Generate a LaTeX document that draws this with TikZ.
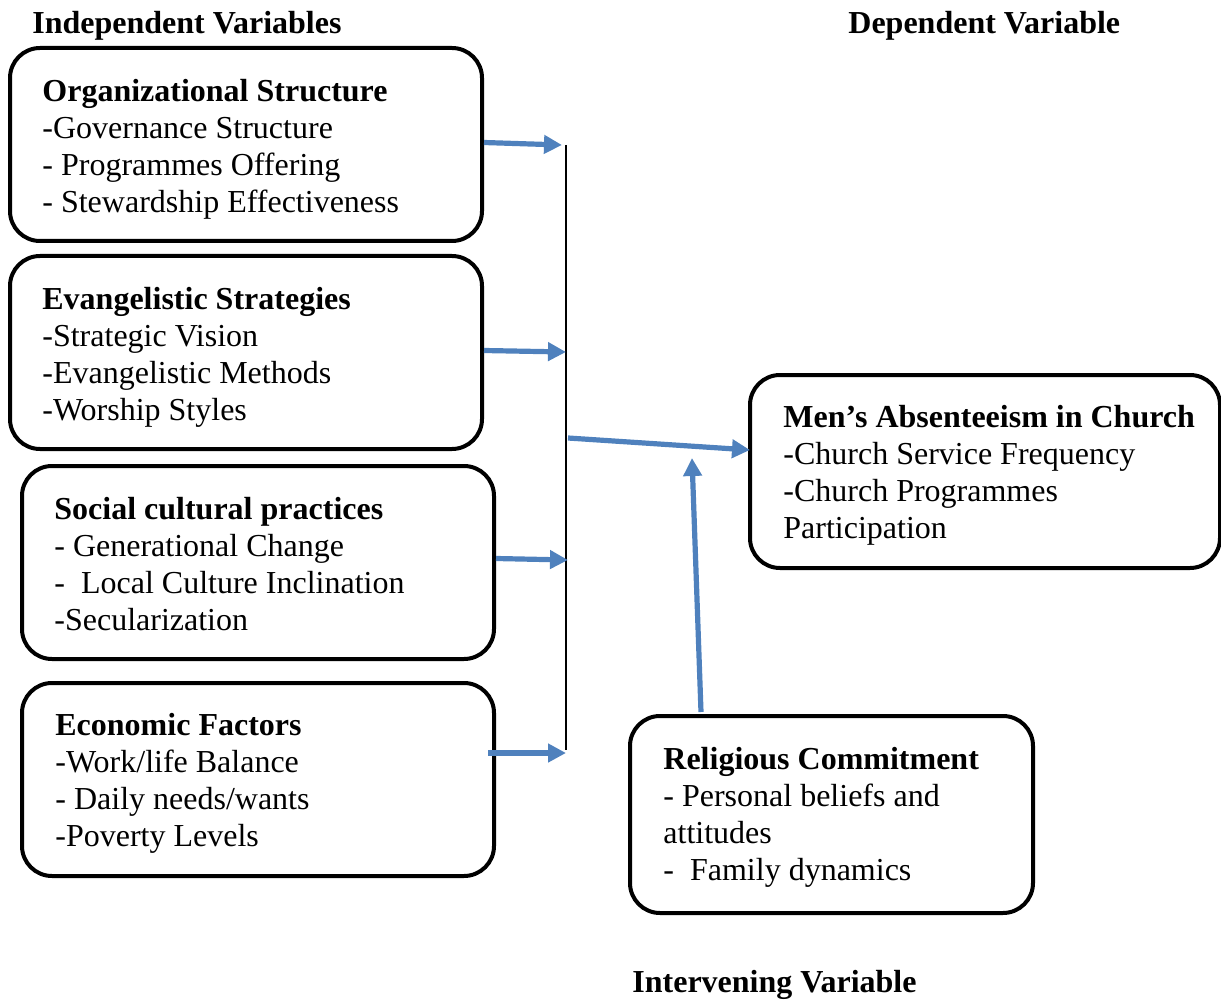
\documentclass[tikz,border=0pt]{standalone}
\usepackage{fontspec}
\setmainfont{Liberation Serif}
\usetikzlibrary{arrows.meta,positioning}
\definecolor{arrowblue}{RGB}{79,129,189}
\tikzset{
  varbox/.style={draw, line width=2pt, rounded corners=15pt, minimum width=#1, minimum height=96.5pt, inner sep=0pt},
  vartext/.style={anchor=north west, inner sep=0pt, align=left, font=\fontsize{16pt}{18.5pt}\selectfont},
  heading/.style={anchor=base west, inner sep=0pt, font=\fontsize{16pt}{18.5pt}\selectfont\bfseries},
  flow/.style={arrowblue, line width=2.6pt, -{Triangle[length=9pt,width=9pt]}},
}
\begin{document}
\begin{tikzpicture}[x=0.5pt, y=-0.5pt]
  \useasboundingbox (0,0) rectangle (1221,1000);

  % headings
  \node[heading] (indep) at (32,34) {Independent Variables};
  \node[heading] (dep) at (848,34) {Dependent Variable};
  \node[heading] (interv) at (632,992) {Intervening Variable};

  % independent variables
  \node[varbox=236pt] (org) at (246,144.5) {};
  \node[vartext] (orgtxt) at (42,75) {\strut\textbf{Organizational Structure}\\-Governance Structure\\- Programmes Offering\\- Stewardship Effectiveness};

  \node[varbox=236pt] (evan) at (246,352.5) {};
  \node[vartext] (evantxt) at (42,283) {\strut\textbf{Evangelistic Strategies}\\-Strategic Vision\\-Evangelistic Methods\\-Worship Styles};

  \node[varbox=236pt] (soc) at (258,562.5) {};
  \node[vartext] (soctxt) at (54,493) {\strut\textbf{Social cultural practices}\\- Generational Change\\-\ \ Local Culture Inclination\\-Secularization};

  \node[varbox=236pt] (econ) at (258,779.5) {};
  \node[vartext] (econtxt) at (55,709) {\strut\textbf{Economic Factors}\\-Work/life Balance\\- Daily needs/wants\\-Poverty Levels};

  % dependent variable
  \node[varbox=235pt] (absent) at (985,471.5) {};
  \node[vartext] (absenttxt) at (783,401) {\strut\textbf{Men’s Absenteeism in Church}\\-Church Service Frequency\\-Church Programmes\\Participation};

  % intervening variable
  \node[varbox=201.5pt, minimum height=98.5pt] (relig) at (831.5,814.5) {};
  \node[vartext] (religtxt) at (663,743) {\strut\textbf{Religious Commitment}\\- Personal beliefs and\\attitudes\\-\ \ Family dynamics};

  % joining line
  \coordinate (top) at (566,145);
  \coordinate (bot) at (566,750);
  \draw[line width=0.8pt] (top) -- (bot);

  \coordinate (j1) at (562,145);
  \coordinate (j2) at (566,352);
  \coordinate (j3) at (568,560);
  \coordinate (j4) at (566,753);
  \draw[flow] ([yshift=1pt]org.east) -- (j1);
  \draw[flow] ([yshift=1pt]evan.east) -- (j2);
  \draw[flow] ([yshift=2pt]soc.east) -- (j3);
  \draw[flow] ([xshift=-4pt]econ.east |- j4) -- (j4);

  \coordinate (m1) at (568,438);
  \coordinate (m2) at (750,450);
  \draw[flow] (m1) -- (m2);

  \coordinate (u1) at (701,712);
  \coordinate (u2) at (692,458);
  \draw[flow] (u1) -- (u2);
\end{tikzpicture}
\end{document}
